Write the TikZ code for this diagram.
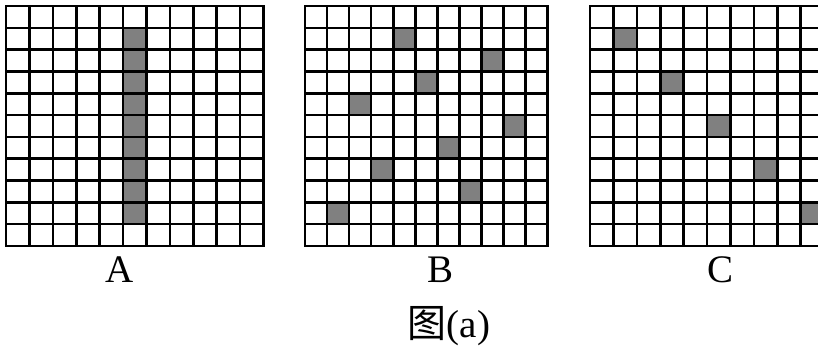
\documentclass[tikz,border=0pt]{standalone}
\usepackage{fontspec}
\setmainfont{Liberation Serif}
\newfontfamily\cjk{Noto Sans CJK SC}
\newcommand\gridlines[4]{% x0, y0, cell width, cell height
  \foreach \i in {0,...,11} {
    \draw[gridline] ({#1+\i*#3},{#2}) -- ({#1+\i*#3},{#2+11*#4});
    \draw[gridline] ({#1},{#2+\i*#4}) -- ({#1+11*#3},{#2+\i*#4});
  }}
\newcommand\shadecell[6]{% x0, y0, w, h, col, row
  \fill[cellfill] ({#1+#5*#3},{#2+#6*#4}) rectangle ++({#3},{#4});}
\begin{document}
\begin{tikzpicture}[x=1pt,y=-1pt,
  gridline/.style={line width=2.6pt,black,line cap=rect},
  cellfill/.style={fill=black!50},
  lbl/.style={font=\fontsize{39}{40}\selectfont,anchor=base,inner sep=0pt}]
\useasboundingbox (0,0) rectangle (818,349);
\begin{scope}
\clip (0,0) rectangle (818,349);
% Grid A
\foreach \r in {1,...,9} {\shadecell{6}{6}{23.4}{21.8}{5}{\r}}
\gridlines{6}{6}{23.4}{21.8}
% Grid B
\foreach \c/\r in {4/1,8/2,5/3,2/4,9/5,6/6,3/7,7/8,1/9} {\shadecell{305}{6}{22.05}{21.8}{\c}{\r}}
\gridlines{305}{6}{22.05}{21.8}
% Grid C
\foreach \k in {1,3,5,7,9} {\shadecell{590}{6}{23.4}{21.8}{\k}{\k}}
\gridlines{590}{6}{23.4}{21.8}
\end{scope}
\node[lbl] (labA) at (120,282) {A};
\node[lbl] (labB) at (440,282) {B};
\node[lbl] (labC) at (720,282) {C};
\node[lbl] (cap) at (449,337) {{\cjk 图}(a)};
\end{tikzpicture}
\end{document}
